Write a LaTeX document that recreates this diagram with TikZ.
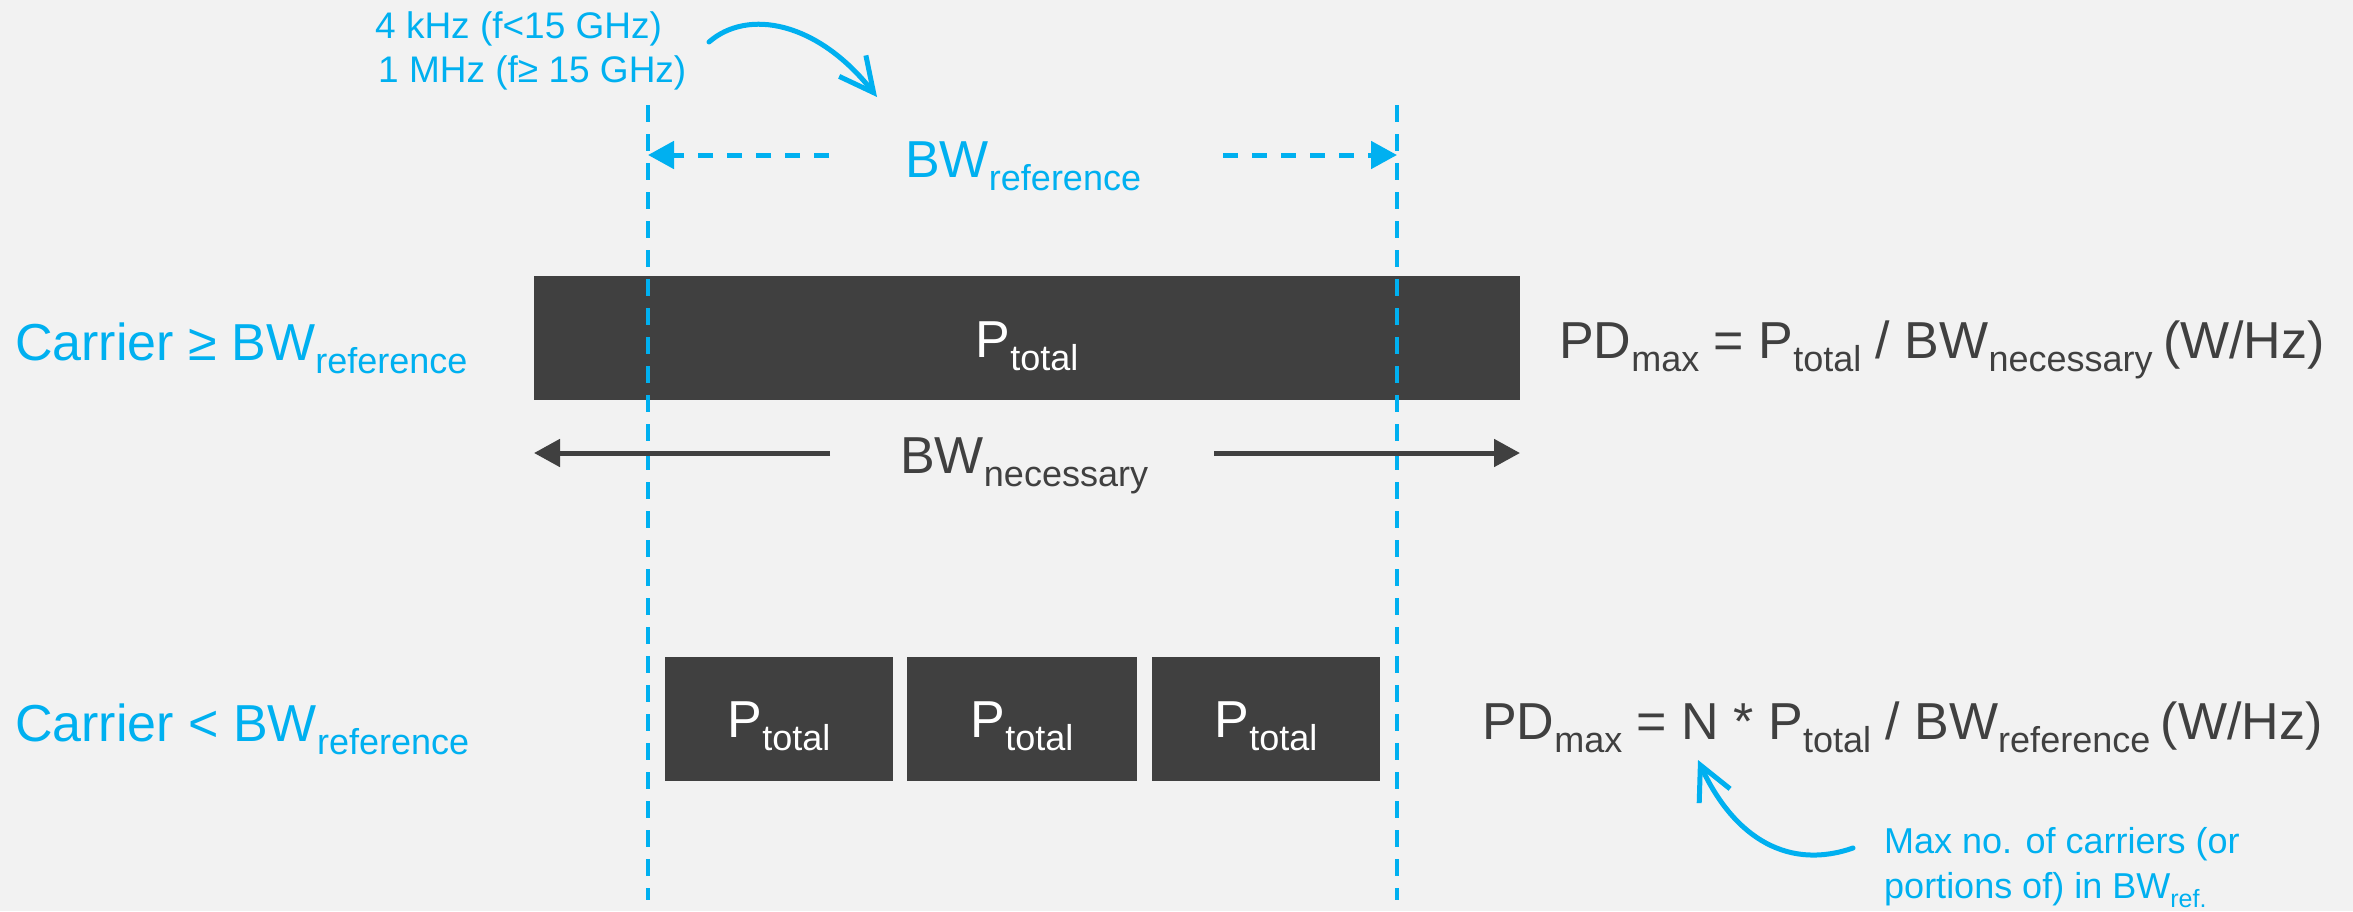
\documentclass[tikz,border=0pt]{standalone}
\usepackage{fontspec}
\setmainfont{Liberation Sans}
\usetikzlibrary{arrows.meta}
\definecolor{bg}{HTML}{F2F2F2}
\definecolor{cblue}{HTML}{00B0F0}
\definecolor{cdark}{HTML}{404040}
\newcommand\subtx[1]{\raisebox{-13pt}{\fontsize{36pt}{36pt}\selectfont #1}}
\newcommand\subsm[1]{\raisebox{-9pt}{\fontsize{25pt}{25pt}\selectfont #1}}
\begin{document}
\begin{tikzpicture}[x=1pt,y=-1pt,
  bigtxt/.style={font=\fontsize{52pt}{60pt}\selectfont, inner sep=0pt},
  midtxt/.style={font=\fontsize{37pt}{44pt}\selectfont, inner sep=0pt, text=cblue},
  smtxt/.style={font=\fontsize{36pt}{44pt}\selectfont, inner sep=0pt, text=cblue},
  bar/.style={fill=cdark, draw=none, inner sep=0pt, anchor=north west},
  vdash/.style={cblue, line width=4pt, dash pattern=on 17pt off 12pt},
  refarrow/.style={cblue, line width=5pt, dash pattern=on 15pt off 14pt, -{Triangle[length=26pt,width=27pt]}},
  necarrow/.style={cdark, line width=5pt, -{Triangle[length=26pt,width=27pt]}},
  curvarrow/.style={cblue, line width=5pt, line cap=round, -{Straight Barb[length=34pt,width=34pt,line width=5pt]}}
]
\fill[bg] (0,0) rectangle (2353,911);
\useasboundingbox (0,0) rectangle (2353,911);

% bars
\node[bar, minimum width=986pt, minimum height=124pt] (bigbar) at (534,276) {};
\node[bar, minimum width=228pt, minimum height=124pt] (sb1) at (665,657) {};
\node[bar, minimum width=230pt, minimum height=124pt] (sb2) at (907,657) {};
\node[bar, minimum width=228pt, minimum height=124pt] (sb3) at (1152,657) {};

\node[bigtxt, text=white, anchor=base] (pt0) at (1027,357) {P\subtx{total}};
\node[bigtxt, text=white, anchor=base] (pt1) at (779,737) {P\subtx{total}};
\node[bigtxt, text=white, anchor=base] (pt2) at (1022,737) {P\subtx{total}};
\node[bigtxt, text=white, anchor=base] (pt3) at (1266,737) {P\subtx{total}};

% dashed reference lines
\coordinate (v1t) at (648,105);
\coordinate (v1b) at (648,900);
\coordinate (v2t) at (1397,105);
\coordinate (v2b) at (1397,900);
\draw[vdash] (v1t) -- (v1b);
\draw[vdash] (v2t) -- (v2b);

% BW reference
\coordinate (r1s) at (829,155);
\coordinate (r1e) at (648,155);
\coordinate (r2s) at (1223,155);
\coordinate (r2e) at (1397,155);
\draw[refarrow] (r1s) -- (r1e);
\draw[refarrow] (r2s) -- (r2e);
\node[bigtxt, text=cblue, anchor=base west] (bwref) at (905,177) {BW\subtx{reference}};

% BW necessary
\coordinate (n1s) at (830,453);
\coordinate (n1e) at (534,453);
\coordinate (n2s) at (1214,453);
\coordinate (n2e) at (1520,453);
\draw[necarrow] (n1s) -- (n1e);
\draw[necarrow] (n2s) -- (n2e);
\node[bigtxt, text=cdark, anchor=base west] (bwnec) at (900,473) {BW\subtx{necessary}};

% left labels
\node[bigtxt, text=cblue, anchor=base west] (car1) at (15,360) {Carrier ≥ BW\subtx{reference}};
\node[bigtxt, text=cblue, anchor=base west] (car2) at (15,741) {Carrier < BW\subtx{reference}};

% formulas
\node[bigtxt, text=cdark, anchor=base west] (pd1) at (1559,358) {PD\subtx{max} = P\subtx{total} / BW\subtx{necessary}\hspace{0.2em}(W/Hz)};
\node[bigtxt, text=cdark, anchor=base west] (pd2) at (1482,739) {PD\subtx{max} = N * P\subtx{total} / BW\subtx{reference}\hspace{0.2em}(W/Hz)};

% top note
\node[midtxt, anchor=base west] (note1) at (375,38) {4 kHz (f<15 GHz)};
\node[midtxt, anchor=base west] (note2) at (378,82) {1 MHz (f≥ 15 GHz)};
\coordinate (c1s) at (709,42);
\coordinate (c1e) at (877,97);
\draw[curvarrow] (c1s) .. controls (748,8) and (818,22) .. (c1e);

% bottom note
\node[smtxt, anchor=base west] (max1) at (1884,853) {Max no. of carriers (or};
\node[smtxt, anchor=base west] (max2) at (1884,898) {portions of) in BW\subsm{ref.}};
\coordinate (c2s) at (1853,848);
\coordinate (c2e) at (1698,760);
\draw[curvarrow] (c2s) .. controls (1790,870) and (1735,840) .. (c2e);
\end{tikzpicture}
\end{document}
